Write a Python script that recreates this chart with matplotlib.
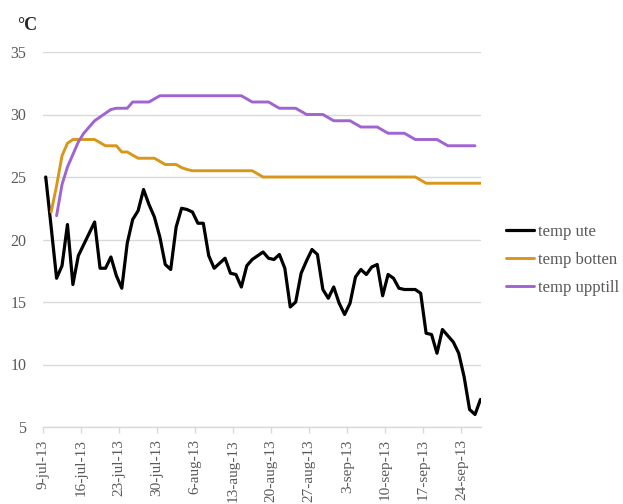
import matplotlib
matplotlib.use("Agg")
import matplotlib.pyplot as plt
import numpy as np
import pandas as pd

# Daily temperatures, 9 Jul 2013 - 28 Sep 2013
start_date = "2013-07-09"
n_days = 81

temp_ute = [
    25.0, 21.0, 16.9, 17.9, 21.2, 16.4, 18.7, 19.6, 20.5, 21.4,
    17.7, 17.7, 18.6, 17.1, 16.1, 19.7, 21.6, 22.3, 24.0, 22.8,
    21.8, 20.2, 18.0, 17.6, 21.0, 22.5, 22.4, 22.2, 21.3, 21.3,
    18.7, 17.7, 18.1, 18.5, 17.3, 17.2, 16.2, 17.9, 18.4, 18.7,
    19.0, 18.5, 18.4, 18.8, 17.7, 14.6, 15.0, 17.3, 18.3, 19.2,
    18.8, 16.0, 15.3, 16.2, 14.9, 14.0, 14.9, 17.0, 17.6, 17.2,
    17.8, 18.0, 15.5, 17.2, 16.9, 16.1, 16.0, 16.0, 16.0, 15.7,
    12.5, 12.4, 10.9, 12.8, 12.3, 11.8, 10.9, 9.0, 6.4, 6.0,
    7.2,
]

temp_botten = [
    np.nan, 22.2, 24.3, 26.7, 27.7, 28.0, 28.0, 28.0, 28.0, 28.0,
    27.75, 27.5, 27.5, 27.5, 27.0, 27.0, 26.75, 26.5, 26.5, 26.5,
    26.5, 26.25, 26.0, 26.0, 26.0, 25.75, 25.6, 25.5, 25.5, 25.5,
    25.5, 25.5, 25.5, 25.5, 25.5, 25.5, 25.5, 25.5, 25.5, 25.25,
    25.0, 25.0, 25.0, 25.0, 25.0, 25.0, 25.0, 25.0, 25.0, 25.0,
    25.0, 25.0, 25.0, 25.0, 25.0, 25.0, 25.0, 25.0, 25.0, 25.0,
    25.0, 25.0, 25.0, 25.0, 25.0, 25.0, 25.0, 25.0, 25.0, 24.75,
    24.5, 24.5, 24.5, 24.5, 24.5, 24.5, 24.5, 24.5, 24.5, 24.5,
    24.5,
]

temp_upptill = [
    np.nan, np.nan, 21.9, 24.4, 25.8, 26.8, 27.8, 28.5, 29.0, 29.5,
    29.8, 30.1, 30.4, 30.5, 30.5, 30.5, 31.0, 31.0, 31.0, 31.0,
    31.25, 31.5, 31.5, 31.5, 31.5, 31.5, 31.5, 31.5, 31.5, 31.5,
    31.5, 31.5, 31.5, 31.5, 31.5, 31.5, 31.5, 31.25, 31.0, 31.0,
    31.0, 31.0, 30.75, 30.5, 30.5, 30.5, 30.5, 30.25, 30.0, 30.0,
    30.0, 30.0, 29.75, 29.5, 29.5, 29.5, 29.5, 29.25, 29.0, 29.0,
    29.0, 29.0, 28.75, 28.5, 28.5, 28.5, 28.5, 28.25, 28.0, 28.0,
    28.0, 28.0, 28.0, 27.75, 27.5, 27.5, 27.5, 27.5, 27.5, 27.5,
    np.nan,
]

series_names = ["temp ute", "temp botten", "temp upptill"]
series_colors = ["#000000", "#D9971A", "#A064D2"]

tick_labels = ["9-jul-13", "16-jul-13", "23-jul-13", "30-jul-13", "6-aug-13",
               "13-aug-13", "20-aug-13", "27-aug-13", "3-sep-13", "10-sep-13",
               "17-sep-13", "24-sep-13"]
y_ticks = [5, 10, 15, 20, 25, 30, 35]

dates = pd.date_range(start_date, periods=n_days, freq="D")
# category positions: each day sits in the middle of its slot
pos = np.arange(n_days) + 0.5
tick_pos = np.arange(0, n_days, 7)[:len(tick_labels)]

serif = "Liberation Serif"
grey = "#595959"

fig = plt.figure(figsize=(6.23, 5.04), dpi=100)
ax = fig.add_axes([43 / 623, 1 - 427 / 504, (481 - 43) / 623, (427 - 52) / 504])

for vals, name, col, lw in zip([temp_ute, temp_botten, temp_upptill],
                               series_names, series_colors, [2.3, 2.1, 2.1]):
    ax.plot(pos, vals, color=col, lw=lw, label=name,
            solid_joinstyle="round", solid_capstyle="round")

ax.set_xlim(0, n_days - 0.4)
ax.set_ylim(5, 35)
ax.set_yticks(y_ticks)
ax.set_yticklabels([str(v) for v in y_ticks], fontfamily=serif, fontsize=11.5, color=grey)
ax.set_xticks(tick_pos)
ax.set_xticklabels(tick_labels, rotation=90, fontfamily=serif, fontsize=11, color=grey,
                   va="top", ha="center")

ax.grid(axis="y", color="#D9D9D9", lw=1.0)
ax.set_axisbelow(True)
for side in ["top", "right", "left"]:
    ax.spines[side].set_visible(False)
ax.spines["bottom"].set_color("#D9D9D9")
ax.spines["bottom"].set_linewidth(1.0)
ax.tick_params(axis="y", length=0, pad=12)
ax.tick_params(axis="x", length=4, width=1.0, color="#D9D9D9", pad=5)

fig.text(17 / 623, 1 - 25 / 504, "°C", fontfamily=serif, fontsize=13,
         fontweight="bold", color="#262626", va="center", ha="left")

leg = fig.legend(loc="center left", bbox_to_anchor=(499 / 623, 1 - 260 / 504),
                 frameon=False, prop={"family": serif, "size": 12},
                 handlelength=1.7, handletextpad=0.25, labelspacing=0.72,
                 borderaxespad=0)
for t in leg.get_texts():
    t.set_color(grey)

fig.savefig("out.png", dpi=100)
